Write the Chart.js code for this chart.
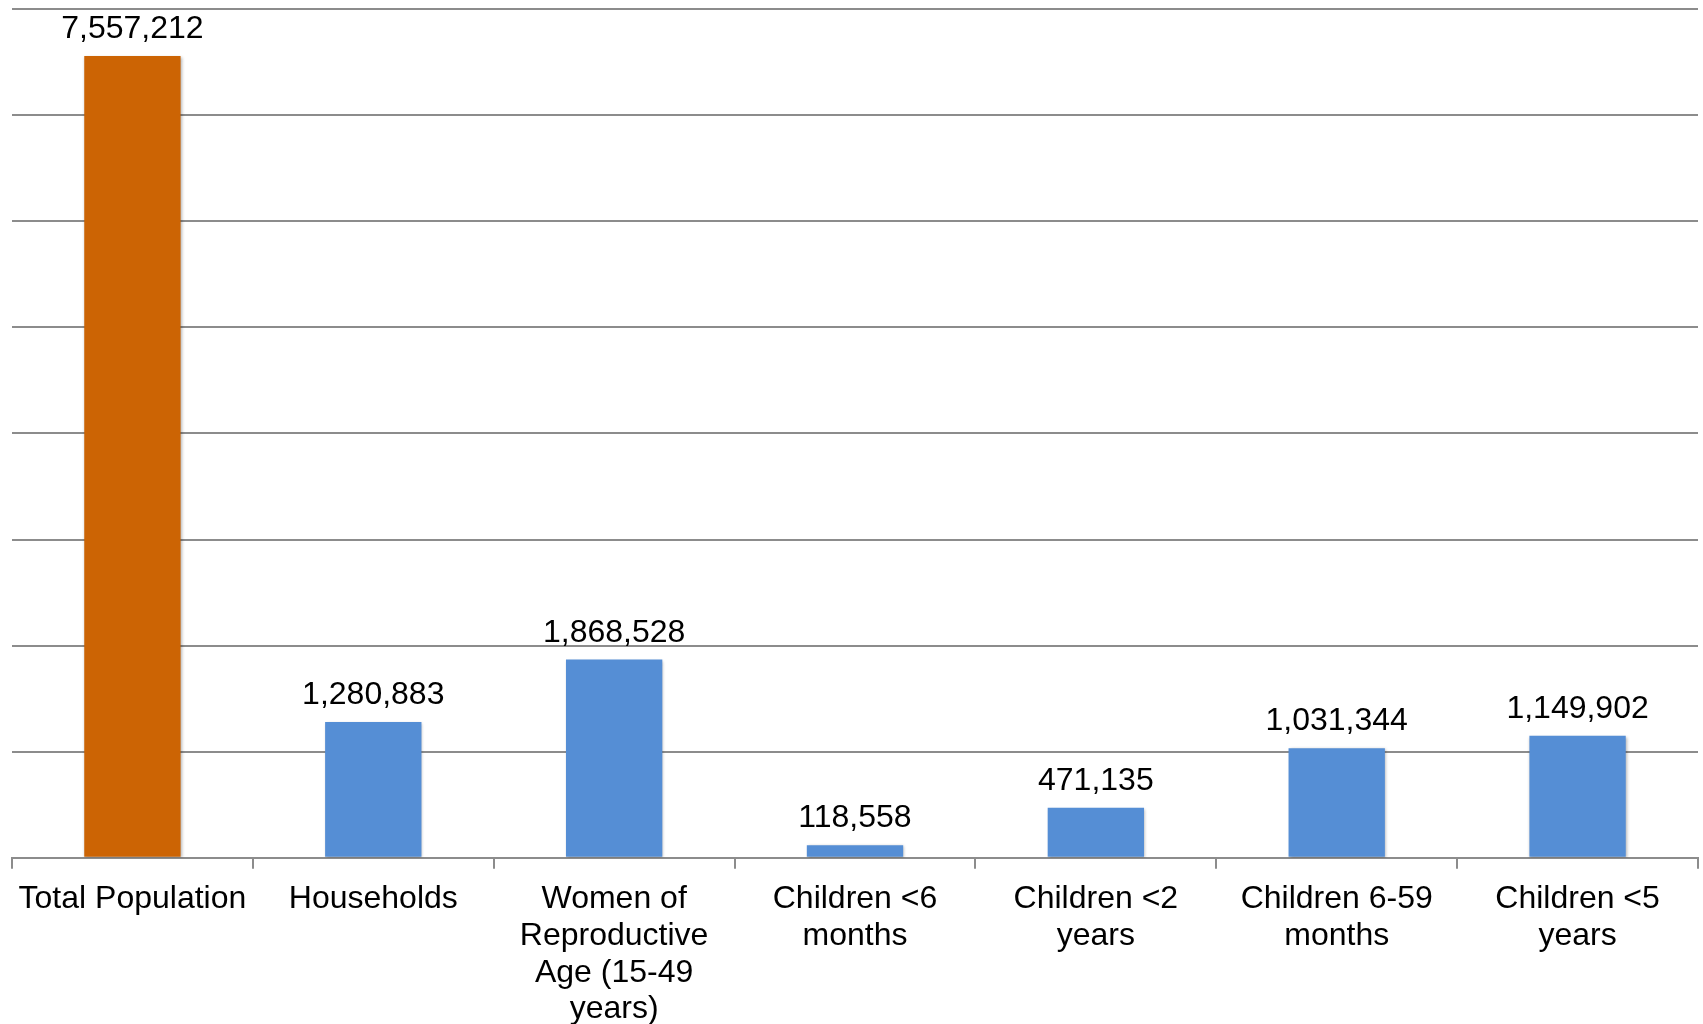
<!DOCTYPE html>
<html>
<head>
<meta charset="utf-8">
<script src="https://cdn.jsdelivr.net/npm/chart.js@4/dist/chart.umd.min.js"></script>
<style>
    html, body { margin: 0; padding: 0; background: #fff; overflow: hidden; }
    #wrap { width: 1703px; height: 1040px; }
</style>
</head>
<body>
<div id="wrap"><canvas id="chart"></canvas></div>
<script>
const categories = [
    ['Total Population'],
    ['Households'],
    ['Women of', 'Reproductive', 'Age (15-49', 'years)'],
    ['Children <6', 'months'],
    ['Children <2', 'years'],
    ['Children 6-59', 'months'],
    ['Children <5', 'years']
];
const counts = [7557212, 1280883, 1868528, 118558, 471135, 1031344, 1149902];
const yTicks = [0, 1000000, 2000000, 3000000, 4000000, 5000000, 6000000, 7000000, 8000000];

const FONT = "'Liberation Sans', Arial, sans-serif";

// soft drop shadow under the bars
const barShadow = {
    id: 'barShadow',
    beforeDatasetsDraw(chart) {
        const ctx = chart.ctx;
        ctx.save();
        ctx.shadowColor = 'rgba(0,0,0,0.3)';
        ctx.shadowBlur = 3;
        ctx.shadowOffsetX = 1;
        ctx.shadowOffsetY = 1;
    },
    afterDatasetsDraw(chart) {
        chart.ctx.restore();
    }
};

// value written above each bar
const valueLabels = {
    id: 'valueLabels',
    afterDatasetsDraw(chart) {
        const ctx = chart.ctx;
        const meta = chart.getDatasetMeta(0);
        ctx.save();
        ctx.font = '32px ' + FONT;
        ctx.fillStyle = '#000';
        ctx.textAlign = 'center';
        ctx.textBaseline = 'alphabetic';
        meta.data.forEach((bar, i) => {
            const v = chart.data.datasets[0].data[i];
            ctx.fillText(v.toLocaleString('en-US'), bar.x, bar.y - 18);
        });
        ctx.restore();
    }
};

document.addEventListener('DOMContentLoaded', function() {
    const ctx = document.getElementById('chart').getContext('2d');
    new Chart(ctx, {
        type: 'bar',
        data: {
            labels: categories,
            datasets: [{
                data: counts,
                backgroundColor: counts.map((_, i) => i === 0 ? '#CC6404' : '#558ED5'),
                borderWidth: 0,
                barPercentage: 0.4,
                categoryPercentage: 1
            }]
        },
        options: {
            responsive: true,
            maintainAspectRatio: false,
            animation: false,
            layout: { padding: { left: 12, right: 5, top: 9, bottom: 0 } },
            plugins: {
                legend: { display: false },
                tooltip: { enabled: false }
            },
            scales: {
                x: {
                    offset: true,
                    grid: {
                        offset: true,
                        drawOnChartArea: false,
                        drawTicks: true,
                        tickLength: 11,
                        color: '#8c8c8c',
                        lineWidth: 2
                    },
                    border: { display: true, color: '#8c8c8c', width: 2 },
                    ticks: {
                        color: '#000',
                        font: { family: FONT, size: 32, lineHeight: 1.15 },
                        padding: 12,
                        maxRotation: 0,
                        autoSkip: false
                    }
                },
                y: {
                    min: 0,
                    max: yTicks[yTicks.length - 1],
                    afterBuildTicks(axis) {
                        axis.ticks = yTicks.map(v => ({ value: v }));
                    },
                    grid: {
                        color: '#8c8c8c',
                        lineWidth: 2,
                        drawTicks: false
                    },
                    border: { display: false },
                    ticks: { display: false }
                }
            }
        },
        plugins: [barShadow, valueLabels]
    });
});
</script>
</body>
</html>
